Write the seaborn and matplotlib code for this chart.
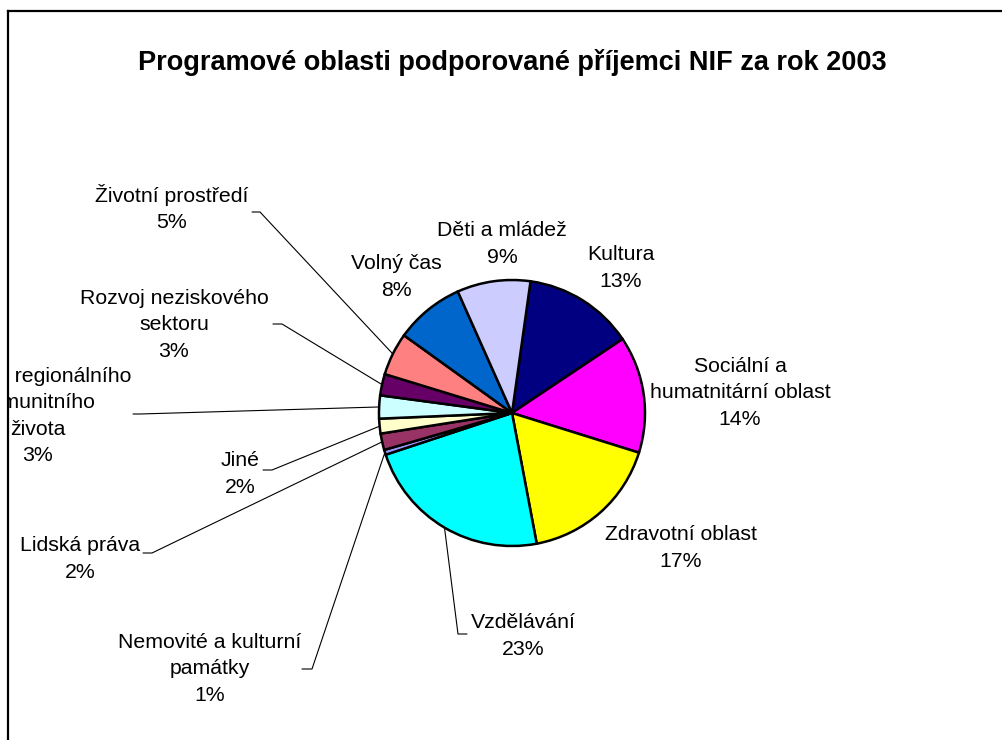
import matplotlib
matplotlib.use("Agg")
import numpy as np
import matplotlib.pyplot as plt
import seaborn as sns

# Slices, clockwise starting with Kultura (in %)
categories = ["Kultura", "Sociální a\nhumatnitární oblast", "Zdravotní oblast", "Vzdělávání",
              "Nemovité a kulturní\npamátky", "Lidská práva", "Jiné",
              "Rozvoj regionálního\nkomunitního\nživota", "Rozvoj neziskového\nsektoru",
              "Životní prostředí", "Volný čas", "Děti a mládež"]
shares = [13.4, 14.2, 17.2, 22.9, 0.6, 2.0, 1.8, 2.8, 2.6, 5.2, 8.4, 8.9]
colors = ["#000080", "#FF00FF", "#FFFF00", "#00FFFF", "#9999FF", "#993366",
          "#FFFFCC", "#CCFFFF", "#660066", "#FF8080", "#0066CC", "#CCCCFF"]
title = "Programové oblasti podporované příjemci NIF za rok 2003"

# Layout (pixels from top-left of the 1003x740 image)
W, H = 1003, 740
label_pos = [(621, 268), (740, 393), (681, 548), (523, 636), (210, 669), (80, 559),
             (240, 474), (38, 416), (174, 325), (172, 208), (396, 277), (502, 244)]
# elbow of the leader line: (label end x, bend x, y); None = no leader line
leaders = [None, None, None, (467, 458, 634), (302, 312, 669), (143, 152, 553),
           (263, 272, 470), (133, 140, 414), (273, 282, 324), (252, 260, 212), None, None]
pie_center = (512, 413)
pie_radius = 133

sns.set_theme(style="white")
plt.rcParams["font.family"] = ["Liberation Sans", "DejaVu Sans"]
plt.rcParams["text.color"] = "black"

fig = plt.figure(figsize=(W / 100, H / 100), dpi=100)
fig.patch.set_facecolor("white")
# axes box starts at the frame (left / top border), runs past the image edges
left, top = 8, 11
ax = fig.add_axes([left / W, -40 / H, (W + 10 - left) / W, (H + 40 - top) / H])
ax.set_facecolor("white")

wedges, _ = ax.pie(shares, colors=sns.color_palette(colors), startangle=82, counterclock=False,
                   center=(pie_center[0], H - pie_center[1]), radius=pie_radius, frame=True,
                   wedgeprops=dict(edgecolor="black", linewidth=1.8))

ax.set_aspect("auto")
ax.set_xlim(left, W + 10)
ax.set_ylim(-40, H - top)
ax.set_xticks([])
ax.set_yticks([])
for side in ["right", "bottom"]:
    ax.spines[side].set_visible(False)
for side in ["left", "top"]:
    ax.spines[side].set_visible(True)
    ax.spines[side].set_color("black")
    ax.spines[side].set_linewidth(1.6)

ax.text(512, H - 62, title, ha="center", va="center", fontsize=19.5, fontweight="bold",
        color="black")

# labels with percentages and leader lines
for w, name, val, (lx, ly), ld in zip(wedges, categories, shares, label_pos, leaders):
    ax.text(lx, H - ly, f"{name}\n{round(val)}%", ha="center", va="center", color="black",
            fontsize=15.3, linespacing=1.48, clip_on=True)
    if ld is not None:
        mid = np.deg2rad((w.theta1 + w.theta2) / 2)
        ex = pie_center[0] + pie_radius * np.cos(mid)
        ey = H - pie_center[1] + pie_radius * np.sin(mid)
        ax.plot([ld[0], ld[1], ex], [H - ld[2], H - ld[2], ey], color="black", linewidth=0.8)

fig.savefig("out.png", dpi=100)
